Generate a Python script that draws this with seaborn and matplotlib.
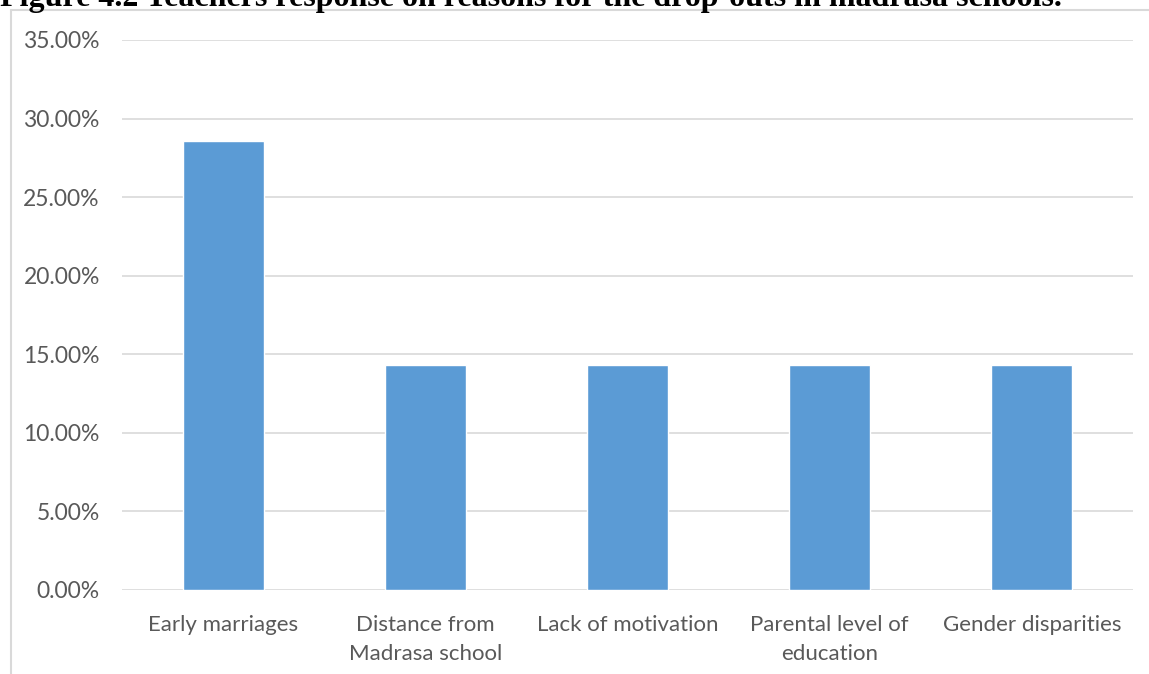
import matplotlib
matplotlib.use("Agg")
import matplotlib.pyplot as plt
from matplotlib.lines import Line2D
from matplotlib.ticker import FuncFormatter
import pandas as pd
import seaborn as sns

# Reasons for drop-outs (teachers' responses)
categories = [
    "Early marriages",
    "Distance from\nMadrasa school",
    "Lack of motivation",
    "Parental level of\neducation",
    "Gender disparities",
]
shares = [0.2857, 0.1429, 0.1429, 0.1429, 0.1429]
y_ticks = [0.0, 0.05, 0.10, 0.15, 0.20, 0.25, 0.30, 0.35]

TITLE = "Figure 4.2 Teachers response on reasons for the drop-outs in madrasa schools."
BAR_COLOR = "#5B9BD5"
GRID_COLOR = "#D9D9D9"
TEXT_COLOR = "#595959"

sns.set_style("white")
plt.rcParams["font.family"] = ["Lato", "DejaVu Sans"]

W, H = 1149, 674
fig = plt.figure(figsize=(W / 100, H / 100), dpi=100)
ax = fig.add_axes([122 / W, 1 - 590 / H, (1133 - 122) / W, 550 / H])

df = pd.DataFrame({"reason": categories, "share": shares})
sns.barplot(data=df, x="reason", y="share", color=BAR_COLOR, width=0.4,
            saturation=1, ax=ax, zorder=3)

ax.set_xlim(-0.5, len(categories) - 0.5)
ax.set_ylim(0, 0.35)
ax.set_yticks(y_ticks)
ax.yaxis.set_major_formatter(FuncFormatter(lambda v, _: f"{v * 100:.2f}%"))
ax.grid(axis="y", color=GRID_COLOR, linewidth=1.2, zorder=0)
ax.set_axisbelow(True)
for s in ax.spines.values():
    s.set_visible(False)
ax.tick_params(axis="both", length=0, labelcolor=TEXT_COLOR)
ax.tick_params(axis="y", pad=16, labelsize=16.5)
ax.tick_params(axis="x", pad=18, labelsize=16)
ax.set_xlabel("")
ax.set_ylabel("")
for lbl in ax.get_xticklabels():
    lbl.set_linespacing(1.55)

# chart frame (left and top edges visible)
fig.add_artist(Line2D([11 / W, 11 / W], [0, 1 - 10 / H], color=GRID_COLOR, lw=1.5))
fig.add_artist(Line2D([11 / W, 1], [1 - 10 / H, 1 - 10 / H], color=GRID_COLOR, lw=1.5))

# caption cut off at the top edge, as in the source page
fig.text(0.0, 1 - 6 / H, TITLE, family=["Liberation Serif"], fontweight="bold",
         fontsize=23, color="black", va="baseline", ha="left")

fig.savefig("out.png", dpi=100)
